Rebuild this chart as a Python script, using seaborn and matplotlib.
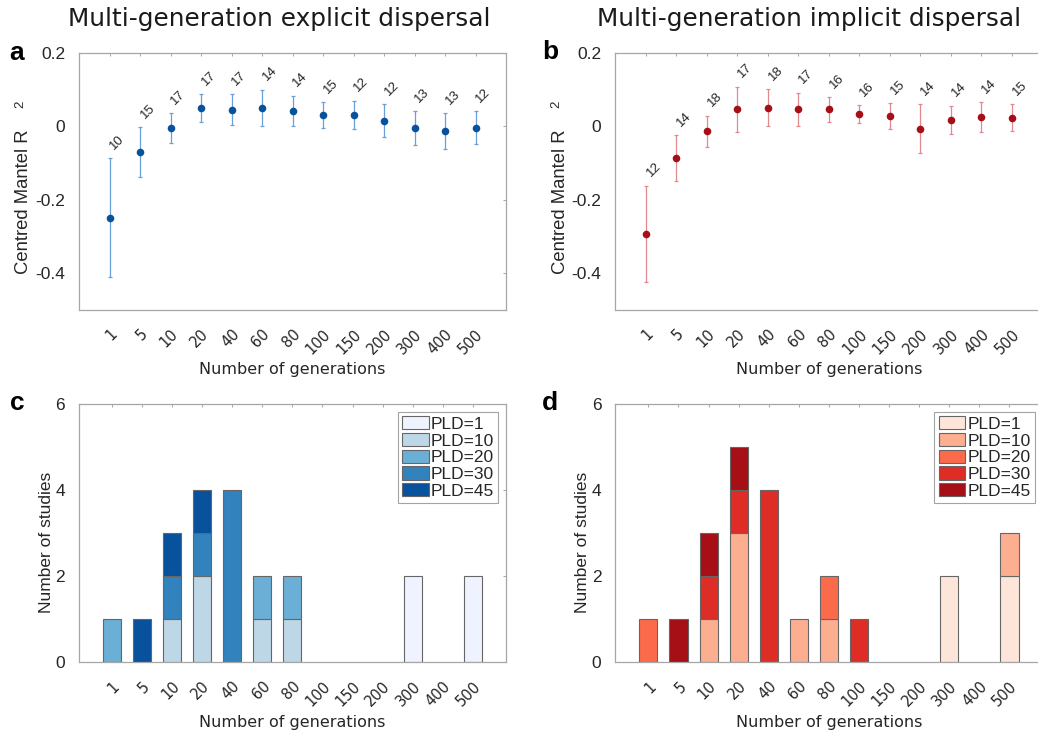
import numpy as np
import pandas as pd
import matplotlib
matplotlib.use("Agg")
import matplotlib.pyplot as plt
from matplotlib.patches import Patch
import seaborn as sns

# ---------------- data ----------------
generations = ["1", "5", "10", "20", "40", "60", "80", "100", "150", "200", "300", "400", "500"]

exp_mean = [-0.249, -0.071, -0.005, 0.050, 0.045, 0.051, 0.042, 0.030, 0.031, 0.015, -0.005, -0.014, -0.005]
exp_upper = [-0.087, -0.003, 0.036, 0.088, 0.087, 0.100, 0.084, 0.066, 0.070, 0.060, 0.041, 0.036, 0.041]
exp_lower = [-0.411, -0.138, -0.046, 0.013, 0.004, 0.001, 0.000, -0.005, -0.008, -0.028, -0.050, -0.062, -0.049]
exp_n = [10, 15, 17, 17, 17, 14, 14, 15, 12, 12, 13, 13, 12]

imp_mean = [-0.293, -0.087, -0.013, 0.046, 0.051, 0.046, 0.046, 0.033, 0.027, -0.007, 0.018, 0.025, 0.023]
imp_upper = [-0.162, -0.024, 0.029, 0.108, 0.102, 0.092, 0.079, 0.057, 0.064, 0.060, 0.056, 0.066, 0.061]
imp_lower = [-0.424, -0.149, -0.055, -0.016, 0.001, 0.000, 0.013, 0.010, -0.008, -0.073, -0.020, -0.015, -0.013]
imp_n = [12, 14, 18, 17, 18, 17, 16, 16, 15, 14, 14, 14, 15]

pld_levels = ["PLD=1", "PLD=10", "PLD=20", "PLD=30", "PLD=45"]
# studies per generation category, per PLD (explicit)
exp_pld1 = [0, 0, 0, 0, 0, 0, 0, 0, 0, 0, 2, 0, 2]
exp_pld10 = [0, 0, 1, 2, 0, 1, 1, 0, 0, 0, 0, 0, 0]
exp_pld20 = [1, 0, 0, 0, 0, 1, 1, 0, 0, 0, 0, 0, 0]
exp_pld30 = [0, 0, 1, 1, 4, 0, 0, 0, 0, 0, 0, 0, 0]
exp_pld45 = [0, 1, 1, 1, 0, 0, 0, 0, 0, 0, 0, 0, 0]
# implicit
imp_pld1 = [0, 0, 0, 0, 0, 0, 0, 0, 0, 0, 2, 0, 2]
imp_pld10 = [0, 0, 1, 3, 0, 1, 1, 0, 0, 0, 0, 0, 1]
imp_pld20 = [1, 0, 0, 0, 0, 0, 1, 0, 0, 0, 0, 0, 0]
imp_pld30 = [0, 0, 1, 1, 4, 0, 0, 1, 0, 0, 0, 0, 0]
imp_pld45 = [0, 1, 1, 1, 0, 0, 0, 0, 0, 0, 0, 0, 0]

blues = ["#eff3ff", "#bdd7e7", "#6baed6", "#3182bd", "#08519c"]
reds = ["#fee5d9", "#fcae91", "#fb6a4a", "#de2d26", "#a50f15"]

# ---------------- style ----------------
sns.set_theme(style="white")
plt.rcParams["font.family"] = ["Liberation Sans", "DejaVu Sans"]
SPINE = "#a6a6a6"
TXT = "#262626"

fig = plt.figure(figsize=(10.38, 7.31), dpi=100)
W, H = 1038.0, 731.0


def add_axes(l, t, w, h):
    return fig.add_axes([l / W, (H - t - h) / H, w / W, h / H])


ax_a = add_axes(79, 53, 427, 256.7)
ax_b = add_axes(615.3, 53, 427, 256.7)
ax_c = add_axes(78.7, 404, 427.3, 258)
ax_d = add_axes(615.3, 404, 427.3, 258)


def style_axes(ax):
    for s in ax.spines.values():
        s.set_color(SPINE)
        s.set_linewidth(0.9)
        s.set_visible(True)
    ax.tick_params(axis="both", which="both", direction="in", length=2.5, width=0.7,
                   color=SPINE, top=True, right=True, labelcolor=TXT)
    ax.tick_params(axis="y", labelsize=12.5, pad=10)
    ax.set_xticks(range(len(generations)))
    ax.set_xticklabels(generations, rotation=45, ha="right", va="top",
                       rotation_mode="anchor", fontfamily="DejaVu Sans", fontsize=10.5)
    ax.tick_params(axis="x", pad=12)
    ax.set_xlabel("Number of generations", fontfamily="DejaVu Sans", fontsize=11.5,
                  color=TXT, labelpad=4)
    ax.grid(False)


def mantel_panel(ax, mean, lower, upper, n, pcol, ecol):
    x = np.arange(len(generations))
    mean = np.array(mean)
    yerr = np.vstack([mean - np.array(lower), np.array(upper) - mean])
    ax.errorbar(x, mean, yerr=yerr, fmt="none", ecolor=ecol, elinewidth=0.9,
                capsize=1.6, capthick=0.9, zorder=2)
    sns.scatterplot(x=x, y=mean, color=pcol, s=30, edgecolor=pcol, linewidth=0,
                    ax=ax, zorder=3, legend=False)
    for xi, up, ni in zip(x, upper, n):
        ax.text(xi - 0.05, up + 0.017, str(ni), rotation=45, ha="left", va="bottom",
                fontsize=9.5, color=TXT)
    ax.set_xlim(-1, 13)
    ax.set_ylim(-0.5, 0.2)
    style_axes(ax)
    ax.set_yticks([-0.4, -0.2, 0, 0.2])
    ax.set_yticklabels(["-0.4", "-0.2", "0", "0.2"])
    ax.set_ylabel("")
    ax.text(-0.129, 0.42, "Centred Mantel R", rotation=90, ha="center", va="center",
            transform=ax.transAxes, fontsize=13.3, color=TXT)
    ax.text(-0.138, 0.80, "2", rotation=90, ha="center", va="center",
            transform=ax.transAxes, fontsize=9.5, color=TXT)


def bar_panel(ax, counts, colors):
    rows = []
    for lvl, vals in zip(pld_levels, counts):
        for i, v in enumerate(vals):
            rows.append({"gen": i, "PLD": lvl, "count": v})
    df = pd.DataFrame(rows)
    pal = dict(zip(pld_levels, colors))
    sns.histplot(data=df, x="gen", weights="count", hue="PLD",
                 hue_order=pld_levels[::-1], palette=pal, multiple="stack",
                 discrete=True, shrink=0.6, alpha=1, edgecolor="#666666",
                 linewidth=0.8, legend=False, ax=ax)
    for p in list(ax.patches):
        if p.get_height() == 0:
            p.remove()
    ax.set_xlim(-1.1, 13.1)
    ax.set_ylim(0, 6)
    style_axes(ax)
    ax.set_yticks([0, 2, 4, 6])
    ax.set_yticklabels(["0", "2", "4", "6"])
    ax.set_ylabel("")
    ax.text(-0.0765, 0.465, "Number of studies", rotation=90, ha="center", va="center",
            transform=ax.transAxes, fontsize=12.5, color=TXT)
    handles = [Patch(facecolor=c, edgecolor="#666666", linewidth=0.8, label=l)
               for l, c in zip(pld_levels, colors)]
    leg = ax.legend(handles=handles, loc="upper right", fontsize=12.5,
                    frameon=True, fancybox=False, handlelength=1.55, handleheight=0.8,
                    handletextpad=0.1, borderpad=0.25, labelspacing=0.06,
                    borderaxespad=0.45, bbox_to_anchor=(1.0, 1.0))
    leg.get_frame().set_edgecolor("#8c8c8c")
    leg.get_frame().set_linewidth(0.8)
    for t in leg.get_texts():
        t.set_color(TXT)


mantel_panel(ax_a, exp_mean, exp_lower, exp_upper, exp_n, "#08519c", "#6a9fd8")
mantel_panel(ax_b, imp_mean, imp_lower, imp_upper, imp_n, "#a50f15", "#e08a90")
bar_panel(ax_c, [exp_pld1, exp_pld10, exp_pld20, exp_pld30, exp_pld45], blues)
bar_panel(ax_d, [imp_pld1, imp_pld10, imp_pld20, imp_pld30, imp_pld45], reds)

fig.text(279 / W, 1 - 19 / H, "Multi-generation explicit dispersal", ha="center",
         va="center", fontfamily="DejaVu Sans", fontsize=17.8, color="#1a1a1a")
fig.text(809 / W, 1 - 19 / H, "Multi-generation implicit dispersal", ha="center",
         va="center", fontfamily="DejaVu Sans", fontsize=17.8, color="#1a1a1a")

for lab, xx, yy in [("a", 17, 53), ("b", 550, 52), ("c", 17, 403), ("d", 550, 403)]:
    fig.text(xx / W, 1 - yy / H, lab, ha="center", va="center", fontsize=19,
             fontweight="bold", color="black")

fig.savefig("out.png", dpi=100)
